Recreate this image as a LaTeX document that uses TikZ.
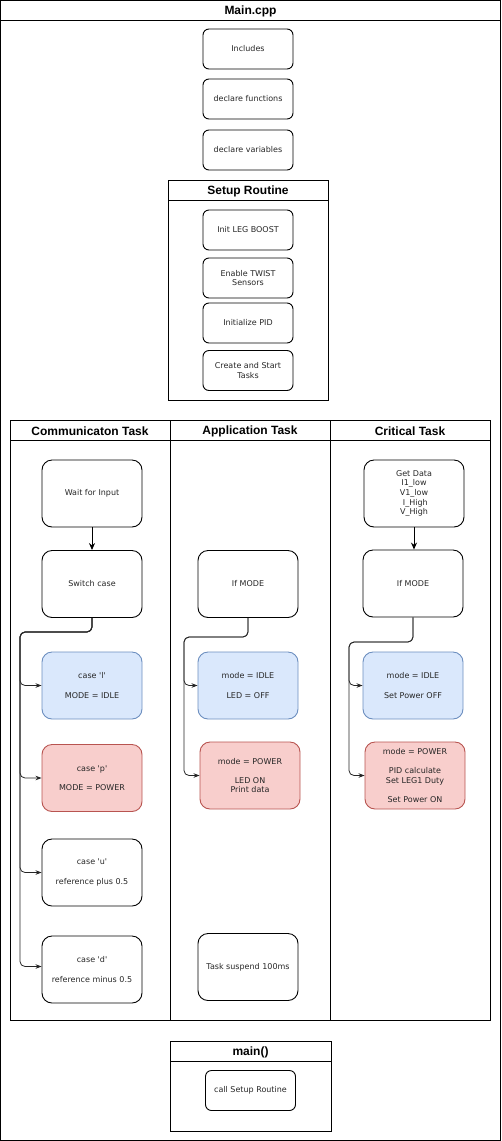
\documentclass[tikz,border=0pt]{standalone}
\usepackage{fontspec}
\setmainfont{DejaVu Sans}
\newfontfamily\titlefont{Liberation Sans}
\usetikzlibrary{arrows.meta}
\definecolor{blueF}{HTML}{DAE8FC}
\definecolor{blueD}{HTML}{6C8EBF}
\definecolor{redF}{HTML}{F8CECC}
\definecolor{redD}{HTML}{B85450}
\newcommand{\q}{\textquotesingle}
\begin{document}
\begin{tikzpicture}[x=1pt,y=-1pt,
  frame/.style={draw=black, line width=1pt},
  ttl/.style={font=\titlefont\bfseries\fontsize{12}{14}\selectfont, inner sep=0pt},
  bigbox/.style={draw=black, line width=0.9pt, rounded corners=10pt, minimum width=100pt, minimum height=67pt, inner sep=0pt, align=center, font=\fontsize{8}{9.6}\selectfont, text=black!85},
  smallbox/.style={draw=black, line width=0.9pt, rounded corners=6pt, minimum width=90pt, minimum height=40pt, inner sep=0pt, align=center, font=\fontsize{8}{9.6}\selectfont, text=black!85},
  bluebox/.style={bigbox, fill=blueF, draw=blueD},
  redbox/.style={bigbox, fill=redF, draw=redD},
  conn/.style={draw=black!85, line width=0.8pt, rounded corners=5pt, -{Stealth[length=6pt,width=4.5pt]}},
  flow/.style={draw=black, line width=1pt, -{Stealth[length=7pt,width=6pt]}}
]
\useasboundingbox (0,0) rectangle (501,1141);
% outer Main.cpp frame
\draw[frame] (0.5,0.5) rectangle (500.5,1140.5);
\draw[frame] (0.5,20) -- (500.5,20);
\node[ttl] (mt) at (250.5,11) {Main.cpp};

\node[smallbox] (inc) at (248,49) {Includes};
\node[smallbox] (decf) at (248,99) {declare functions};
\node[smallbox] (decv) at (248,150) {declare variables};

% Setup Routine
\draw[frame] (168,180) rectangle (328,400);
\draw[frame] (168,200) -- (328,200);
\node[ttl] (st) at (248,191) {Setup Routine};
\node[smallbox] (init) at (248,230) {Init LEG BOOST};
\node[smallbox] (twist) at (248,278) {Enable TWIST\\Sensors};
\node[smallbox] (pid) at (248,323) {Initialize PID};
\node[smallbox] (create) at (248,370.5) {Create and Start\\Tasks};

% Task pool
\draw[frame] (10,420) rectangle (490,1020);
\draw[frame] (10,440) -- (490,440);
\draw[frame] (170,420) -- (170,1020);
\draw[frame] (330,420) -- (330,1020);
\node[ttl] (ct) at (90,431) {Communicaton Task};
\node[ttl] (at) at (250,431) {Application Task};
\node[ttl] (kt) at (410,431) {Critical Task};

% Communication task
\node[bigbox] (wait) at (92,493.5) {Wait for Input};
\node[bigbox] (sw) at (92,584) {Switch case};
\node[bluebox] (cl) at (92,685.5) {case \q l\q\\[9.6pt]MODE = IDLE};
\node[redbox] (cp) at (92,778) {case \q p\q\\[9.6pt]MODE = POWER};
\node[bigbox] (cu) at (92,872.5) {case \q u\q\\[9.6pt]reference plus 0.5};
\node[bigbox] (cd) at (92,969.5) {case \q d\q\\[9.6pt]reference minus 0.5};
\coordinate (jc) at (20,632);
\draw[flow] (wait) -- (sw);
\draw[conn] (sw.south) |- (jc) |- (cl.west);
\draw[conn] (sw.south) |- (jc) |- (cp.west);
\draw[conn] (sw.south) |- (jc) |- (cu.west);
\draw[conn] (sw.south) |- (jc) |- ([yshift=3pt]cd.west);

% Application task
\node[bigbox] (am) at (248,584) {If MODE};
\node[bluebox] (ai) at (248,685.5) {mode = IDLE\\[9.6pt]LED = OFF};
\node[redbox] (ap) at (250,775.5) {mode = POWER\\[9.6pt]LED ON\\Print data};
\node[bigbox] (ats) at (248,967) {Task suspend 100ms};
\coordinate (ja) at (184,637);
\draw[conn] (am.south) |- (ja) |- (ai.west);
\draw[conn] (am.south) |- (ja) |- (ap.west);

% Critical task
\node[bigbox] (cg) at (414,493.5) {Get Data\\I1\_low\\V1\_low\\\ I\_High\\V\_High};
\node[bigbox] (cm) at (413,583.5) {If MODE};
\node[bluebox] (ci) at (413,685.5) {mode = IDLE\\[9.6pt]Set Power OFF};
\node[redbox] (cpw) at (415,775.5) {mode = POWER\\[9.6pt]PID calculate\\Set LEG1 Duty\\[9.6pt]Set Power ON};
\coordinate (jk) at (349,642);
\draw[flow] (cg.south) -- (cg.south |- cm.north);
\draw[conn] (cm.south) |- (jk) |- (ci.west);
\draw[conn] (cm.south) |- (jk) |- (cpw.west);

% main()
\draw[frame] (170,1041) rectangle (331,1131);
\draw[frame] (170,1061) -- (331,1061);
\node[ttl] (mn) at (250.5,1052) {main()};
\node[smallbox] (call) at (250.5,1090.5) {call Setup Routine};
\end{tikzpicture}
\end{document}
